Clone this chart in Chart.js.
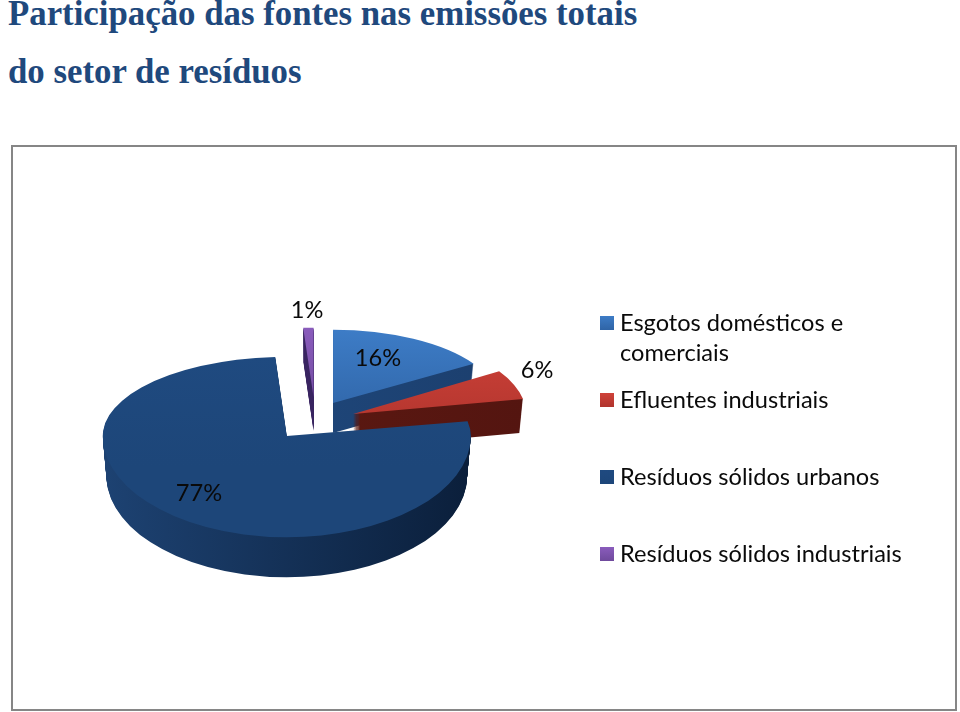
<!DOCTYPE html>
<html lang="pt">
<head>
<meta charset="utf-8">
<title>Participação das fontes</title>
<script src="https://cdn.jsdelivr.net/npm/chart.js@4"></script>
<style>
  html, body { margin: 0; padding: 0; background: #fff; }
  #page { position: relative; width: 960px; height: 712px; overflow: hidden; }
  #frame { position: absolute; left: 11px; top: 145px; width: 942px; height: 562px; border: 2px solid #868686; }
  #myChart { position: absolute; left: 0; top: 0; }
  .title { position: absolute; left: 8px; margin: 0; font: bold 34.8px "Liberation Serif", serif; color: #1f497d; white-space: nowrap; line-height: 36px; }
  .legendItem { position: absolute; left: 620px; width: 300px; font: 23.6px/30px Lato, sans-serif; color: #0a0a0a; }
  .legendItem i { position: absolute; left: -20px; top: 9px; width: 14px; height: 14px; }
</style>
</head>
<body>
<div id="page">
  <h1 class="title" style="top:-4px">Participação das fontes nas emissões totais</h1>
  <h1 class="title" style="top:54px">do setor de resíduos</h1>
  <div id="frame"></div>
  <canvas id="myChart" width="960" height="712"></canvas>
  <div id="legend"></div>
</div>

<script>
const categories = [['Esgotos domésticos e', 'comerciais'], ['Efluentes industriais'], ['Resíduos sólidos urbanos'], ['Resíduos sólidos industriais']];
const shares = [16, 6, 77, 1];

const faceTop = ['#3d7cc6', '#cf4239', '#1f4a80', '#8a5cbc'];
const faceBottom = ['#2f64a6', '#b0342d', '#1d4679', '#6f4a9c'];
const wallLeft = ['#1f4a80', '#5e1a12', '#1d4272', '#3d2766'];
const wallRight = ['#1c3f6e', '#541510', '#0b1f3b', '#33205a'];

// how each slice is pulled out and foreshortened
const explode = [37.5, 41, 46, 46];
const nudgeY = [0, 2, 0, 0];
const radiusScale = [0.905, 0.94, 1, 0.897];
const squashUp = [0.44, 0.46, 0.43, 0.42];
const squashDown = [0.44, 0.46, 0.55, 0.42];
const depth = [30, 34, 40, 34];
const drawOrder = [3, 0, 1, 2];

const legendTops = [307, 384, 461, 538];
const labelPos = [[378, 358], [537, 370], [199, 493], [307, 310]];

function drawSlice(chart, arc, i) {
    const ctx = chart.ctx;
    const mid = (arc.startAngle + arc.endAngle) / 2;
    const apexX = arc.x + Math.cos(mid) * explode[i];
    const apexY = Math.round(arc.y + Math.sin(mid) * explode[i] * 0.48) + nudgeY[i];
    const r = arc.outerRadius;
    const saved = arc.options;

    function layer(d, fill, s) {
        [[squashUp[i], -1000, apexY + d], [squashDown[i], apexY + d, 1000]].forEach(function (part) {
            ctx.save();
            ctx.beginPath();
            ctx.rect(0, part[1], chart.width, part[2] - part[1]);
            ctx.clip();
            ctx.translate(apexX, apexY + d);
            ctx.scale(radiusScale[i] * s, part[0] * radiusScale[i]);
            ctx.translate(-arc.x, -arc.y);
            arc.options = Object.assign({}, saved, { backgroundColor: fill(ctx) });
            arc.draw(ctx);
            ctx.restore();
        });
    }

    function wall(c) {
        const g = c.createLinearGradient(arc.x - r, 0, arc.x + r, 0);
        g.addColorStop(0, wallLeft[i]);
        g.addColorStop(1, wallRight[i]);
        return g;
    }
    function face(c) {
        const g = c.createLinearGradient(0, arc.y - r, 0, arc.y + r * 0.3);
        g.addColorStop(0, faceTop[i]);
        g.addColorStop(1, faceBottom[i]);
        return g;
    }

    for (let d = depth[i]; d > 0; d--) {
        layer(d, wall, 1 - 0.02 * d / depth[i]);
    }
    layer(0, face, 1);
    arc.options = saved;
}

const pie3d = {
    id: 'pie3d',
    beforeDatasetsDraw(chart) {
        const arcs = chart.getDatasetMeta(0).data;
        drawOrder.forEach(function (i) { drawSlice(chart, arcs[i], i); });
        const ctx = chart.ctx;
        ctx.save();
        ctx.font = '23.6px Lato, sans-serif';
        ctx.fillStyle = '#0a0a0a';
        ctx.textAlign = 'center';
        ctx.textBaseline = 'middle';
        shares.forEach(function (v, i) {
            ctx.fillText(v + '%', labelPos[i][0], labelPos[i][1]);
        });
        ctx.restore();
        return false;
    }
};

new Chart(document.getElementById('myChart').getContext('2d'), {
    type: 'pie',
    data: {
        labels: categories.map(function (c) { return c.join(' '); }),
        datasets: [{ data: shares, backgroundColor: faceTop, borderWidth: 0 }]
    },
    options: {
        responsive: false,
        animation: false,
        layout: { padding: { left: 131, right: 461, top: 235, bottom: 109 } },
        plugins: { legend: { display: false }, tooltip: { enabled: false } }
    },
    plugins: [pie3d]
});

const legend = document.getElementById('legend');
categories.forEach(function (lines, i) {
    const item = document.createElement('div');
    item.className = 'legendItem';
    item.style.top = legendTops[i] + 'px';
    item.innerHTML = '<i style="background:linear-gradient(' + faceTop[i] + ',' + faceBottom[i] + ')"></i>' + lines.join('<br>');
    legend.appendChild(item);
});
</script>
</body>
</html>
